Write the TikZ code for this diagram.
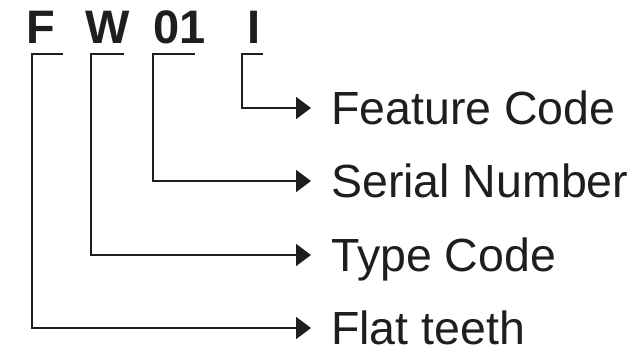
\documentclass[tikz,border=0pt]{standalone}
\usepackage{fontspec}
\setmainfont{Liberation Sans}
\usetikzlibrary{arrows.meta}
\definecolor{ink}{HTML}{1E1E1E}
\tikzset{
  code/.style={inner sep=0pt, anchor=base, text=ink, font=\fontsize{47}{50}\selectfont\bfseries},
  lab/.style={inner sep=0pt, anchor=west, text=ink, text height=33pt, text depth=0pt, font=\fontsize{46.5}{50}\selectfont},
  conn/.style={draw=ink, line width=2pt, -{Triangle[length=15pt,width=22pt]}}
}
\begin{document}
\begin{tikzpicture}[x=1pt,y=-1pt]
\useasboundingbox[fill=white] (0,0) rectangle (642,355);
% code letters
\node[code] (F) at (41,44) {F};
\node[code] (W) at (107.5,44) {W};
\node[code] (N) at (179.5,44) {01};
\node[code] (I) at (254,44) {I};
% labels
\node[lab] (lI) at (331,108) {Feature Code};
\node[lab] (lN) at (331,181) {Serial Number};
\node[lab] (lW) at (331,255) {Type Code};
\node[lab] (lF) at (331,328) {Flat teeth};
% bracket corners
\coordinate (tF) at (63,54);  \coordinate (kF) at (32,54);
\coordinate (tW) at (124,54); \coordinate (kW) at (91,54);
\coordinate (tN) at (195,54); \coordinate (kN) at (153,54);
\coordinate (tI) at (263,54); \coordinate (kI) at (242,54);
% connectors
\draw[conn] (tI) -- (kI) |- ([xshift=-20pt]lI.west);
\draw[conn] (tN) -- (kN) |- ([xshift=-20pt]lN.west);
\draw[conn] (tW) -- (kW) |- ([xshift=-20pt]lW.west);
\draw[conn] (tF) -- (kF) |- ([xshift=-20pt]lF.west);
\end{tikzpicture}
\end{document}
